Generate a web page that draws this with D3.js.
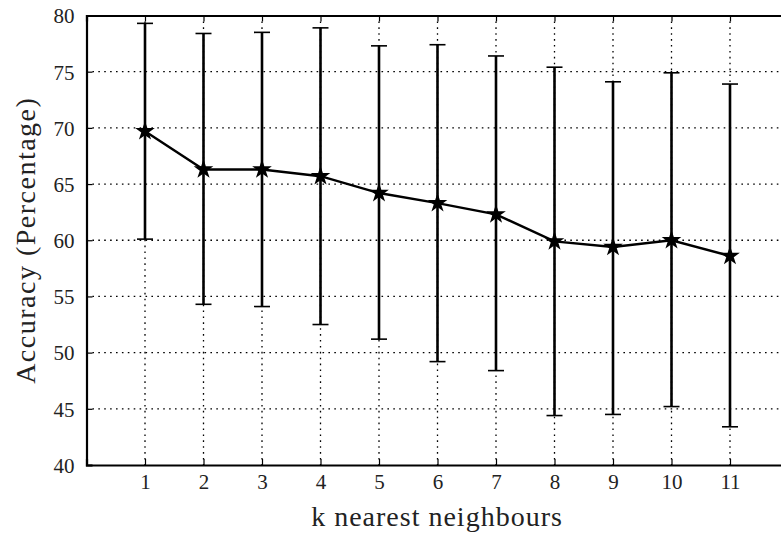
<!DOCTYPE html>
<html>
<head>
<meta charset="utf-8">
<script src="https://cdn.jsdelivr.net/npm/d3@7"></script>
<style>
  body { margin: 0; background: #fff; }
  svg { display: block; font-family: "Liberation Serif", "DejaVu Serif", serif; }
</style>
</head>
<body>
<svg id="chart"></svg>
<script>
var svgWidth = 781;
var svgHeight = 536;

// k values and accuracy (mean, upper, lower)
var kValues = [1, 2, 3, 4, 5, 6, 7, 8, 9, 10, 11];
var meanAcc = [69.7, 66.3, 66.3, 65.7, 64.2, 63.3, 62.3, 59.9, 59.4, 60.0, 58.6];
var upperAcc = [79.3, 78.4, 78.5, 78.9, 77.3, 77.4, 76.4, 75.4, 74.1, 74.9, 73.9];
var lowerAcc = [60.1, 54.3, 54.1, 52.5, 51.2, 49.2, 48.4, 44.4, 44.5, 45.2, 43.4];
var yTicks = [40, 45, 50, 55, 60, 65, 70, 75, 80];

var serif = "'Liberation Serif', 'DejaVu Serif', serif";
var margin = { left: 86.5, top: 15.5, bottom: 71 };
var plotRight = 788.5;
var plotBottom = svgHeight - margin.bottom;

var svg = d3.select("#chart")
  .attr("width", svgWidth)
  .attr("height", svgHeight);

var x = d3.scaleLinear().domain([0, 12]).range([margin.left, plotRight]);
var y = d3.scaleLinear().domain([40, 80]).range([plotBottom, margin.top]);

var data = kValues.map(function(k, i) {
  return { k: k, mean: meanAcc[i], hi: upperAcc[i], lo: lowerAcc[i] };
});

// dotted grid
var grid = svg.append("g").attr("class", "grid")
  .attr("stroke", "#000")
  .attr("stroke-width", 1.3)
  .attr("stroke-dasharray", "1.6,4.3");

grid.selectAll("line.h")
  .data(yTicks.slice(1, -1))
  .enter().append("line")
  .attr("x1", margin.left).attr("x2", plotRight)
  .attr("y1", function(d) { return y(d); })
  .attr("y2", function(d) { return y(d); });

grid.selectAll("line.v")
  .data(kValues)
  .enter().append("line")
  .attr("y1", margin.top).attr("y2", plotBottom)
  .attr("x1", function(d) { return x(d); })
  .attr("x2", function(d) { return x(d); });

// axes
var xAxis = d3.axisBottom(x).tickValues(kValues).tickSize(-6).tickPadding(9).tickFormat(d3.format("d"));
var xAxisTop = d3.axisTop(x).tickValues(kValues).tickSize(-6).tickFormat("");
var yAxis = d3.axisLeft(y).tickValues(yTicks).tickSize(-6).tickPadding(12);

var gx = svg.append("g").attr("transform", "translate(0," + plotBottom + ")").call(xAxis);
var gxt = svg.append("g").attr("transform", "translate(0," + margin.top + ")").call(xAxisTop);
var gy = svg.append("g").attr("transform", "translate(" + margin.left + ",0)").call(yAxis);

[gx, gxt, gy].forEach(function(g) {
  g.attr("font-family", null);
  g.select(".domain").attr("stroke", "#000").attr("stroke-width", 2.2);
  g.selectAll(".tick line").attr("stroke", "#000").attr("stroke-width", 1.2);
  g.selectAll(".tick text")
    .attr("fill", "#222")
    .style("font-family", serif)
    .style("font-size", "21px");
});
gy.selectAll(".tick text").attr("dy", "0.35em");

// error bars
var bars = svg.append("g").attr("class", "errorbars");
bars.selectAll("line.stem")
  .data(data)
  .enter().append("line")
  .attr("x1", function(d) { return x(d.k); })
  .attr("x2", function(d) { return x(d.k); })
  .attr("y1", function(d) { return y(d.hi); })
  .attr("y2", function(d) { return y(d.lo); })
  .attr("stroke", "#000")
  .attr("stroke-width", 2.6);

["hi", "lo"].forEach(function(key) {
  bars.selectAll("line.cap-" + key)
    .data(data)
    .enter().append("line")
    .attr("x1", function(d) { return x(d.k) - 8; })
    .attr("x2", function(d) { return x(d.k) + 8; })
    .attr("y1", function(d) { return y(d[key]); })
    .attr("y2", function(d) { return y(d[key]); })
    .attr("stroke", "#000")
    .attr("stroke-width", 1.6);
});

// mean line
var line = d3.line()
  .x(function(d) { return x(d.k); })
  .y(function(d) { return y(d.mean); });

svg.append("path")
  .datum(data)
  .attr("d", line)
  .attr("fill", "none")
  .attr("stroke", "#000")
  .attr("stroke-width", 2.4);

// star markers
var star = d3.symbol().type(d3.symbolStar).size(120);
svg.selectAll("path.star")
  .data(data)
  .enter().append("path")
  .attr("d", star)
  .attr("transform", function(d) { return "translate(" + x(d.k) + "," + y(d.mean) + ")"; })
  .attr("fill", "#000");

// axis labels
svg.append("text")
  .attr("x", 437)
  .attr("y", 526)
  .attr("text-anchor", "middle")
  .attr("fill", "#222")
  .style("font-family", serif)
  .style("font-size", "28px")
  .style("letter-spacing", "1px")
  .text("k nearest neighbours");

svg.append("text")
  .attr("transform", "translate(35," + (margin.top + plotBottom) / 2 + ") rotate(-90)")
  .attr("text-anchor", "middle")
  .attr("fill", "#222")
  .style("font-family", serif)
  .style("font-size", "28px")
  .style("letter-spacing", "1.5px")
  .text("Accuracy (Percentage)");
</script>
</body>
</html>
